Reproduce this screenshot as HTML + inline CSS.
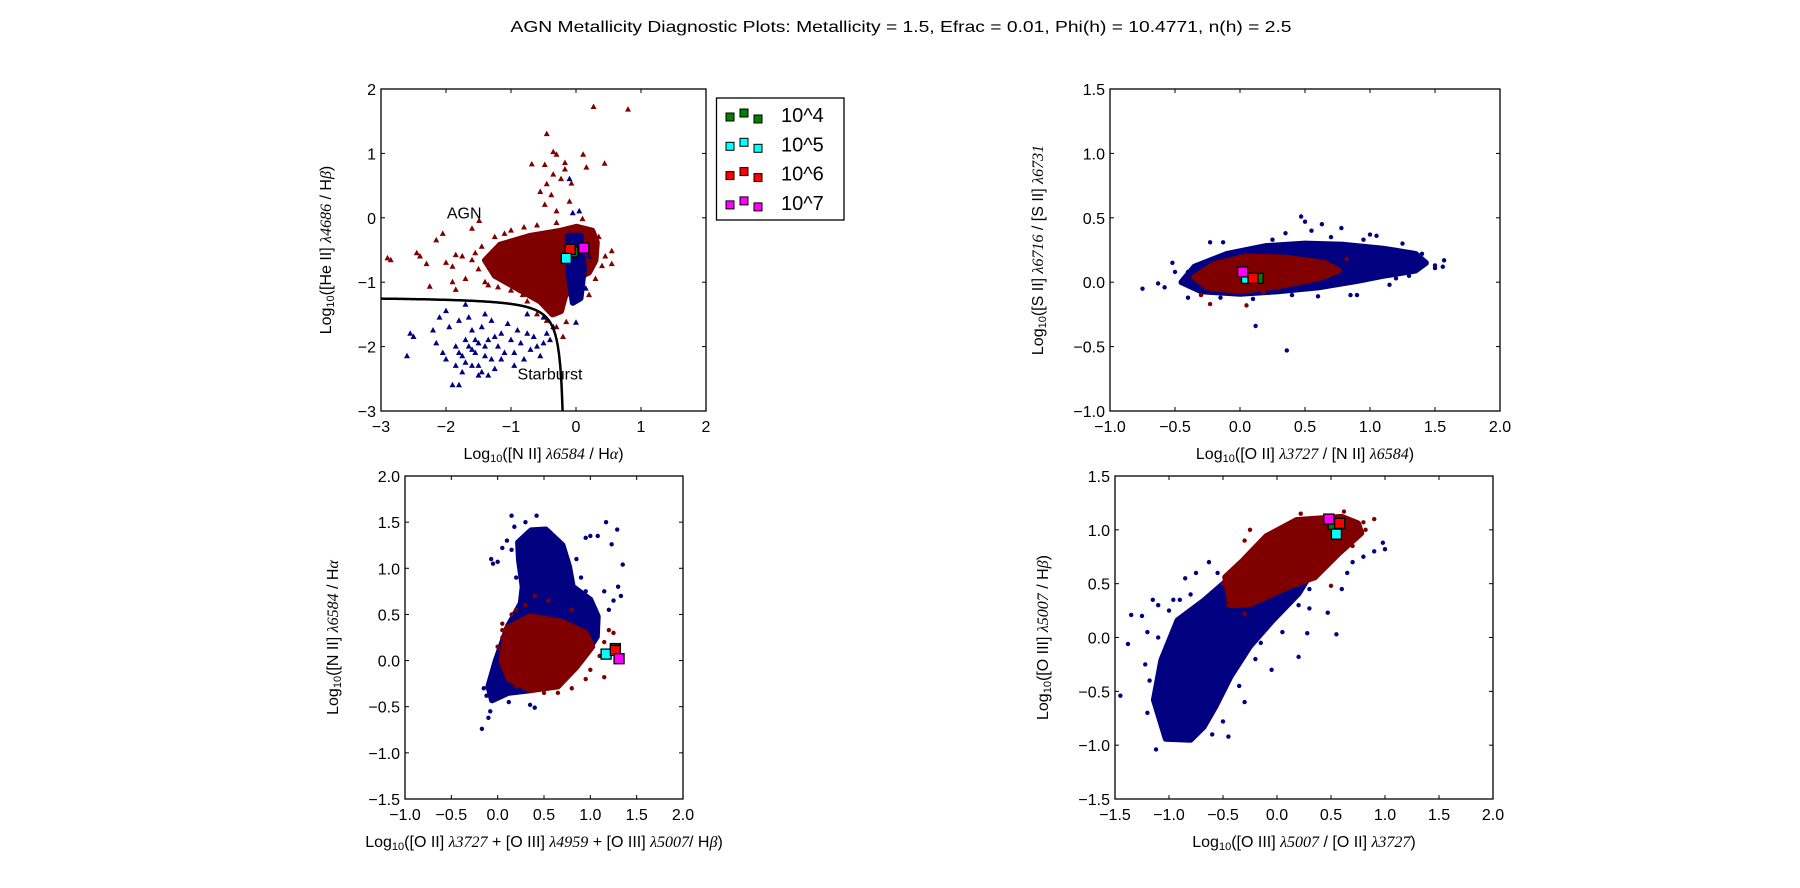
<!DOCTYPE html>
<html><head><meta charset="utf-8">
<style>
html,body{margin:0;padding:0;background:#fff;}
svg{display:block;font-family:"Liberation Sans","DejaVu Sans",sans-serif;}
.tick{font-size:16px;fill:#000;}
.lab{font-size:16px;fill:#000;}
.m{font-family:"Liberation Serif","DejaVu Serif",serif;font-style:italic;}
</style></head>
<body>
<svg id="fig" width="1800" height="888" viewBox="0 0 1800 888" xmlns="http://www.w3.org/2000/svg">
<rect width="1800" height="888" fill="#fff"/>
<text x="901" y="32" text-anchor="middle" font-size="16" textLength="781" lengthAdjust="spacingAndGlyphs">AGN Metallicity Diagnostic Plots: Metallicity = 1.5, Efrac = 0.01, Phi(h) = 10.4771, n(h) = 2.5</text>
</svg>
<script>
// ---------- Plot 1 data (HeII vs NII) ----------
const p1xTicks=[-3,-2,-1,0,1,2];
const p1yTicks=[-3,-2,-1,0,1,2];
const p1RedCore=[[-1.4,-0.66],[-1.17,-0.42],[-0.7,-0.28],[-0.23,-0.2],[0.01,-0.14],[0.25,-0.2],[0.32,-0.38],[0.3,-0.66],[0.2,-0.85],[0.0,-0.95],[-0.17,-1.22],[-0.23,-1.45],[-0.36,-1.5],[-0.55,-1.3],[-0.9,-1.1],[-1.25,-0.9]];
const p1BlueCore=[[-0.12,-0.28],[0.07,-0.28],[0.12,-0.8],[0.07,-1.25],[-0.05,-1.32],[-0.11,-0.9]];
const p1RedPts=[[0.27,1.72],[0.8,1.68],[-0.45,1.3],[-0.35,1.02],[-0.3,0.98],[-0.17,0.85],[0.11,0.98],[0.44,0.84],[0.16,0.78],[-0.68,0.83],[-0.48,0.82],[-0.17,0.75],[-0.35,0.67],[-0.23,0.6],[-0.07,0.53],[-0.45,0.52],[-0.55,0.4],[-0.38,0.35],[-0.1,0.25],[-0.48,0.2],[-0.3,0.1],[-1.49,-0.05],[-1.6,-0.17],[-2.05,-0.25],[-2.15,-0.35],[-2.9,-0.63],[-2.85,-0.66],[-2.45,-0.55],[-2.4,-0.6],[-2.3,-0.72],[-2.0,-0.7],[-1.85,-0.58],[-1.75,-0.6],[-1.9,-0.76],[-1.6,-0.66],[-1.7,-0.95],[-1.9,-1.0],[-2.25,-1.07],[-1.85,-1.12],[-1.4,-1.0],[-1.2,-1.08],[-1.0,-1.13],[-0.82,-1.2],[-0.6,-1.5],[-0.15,-1.62],[-0.2,-1.85],[0.55,-0.52],[0.55,-0.72],[0.45,-0.6],[0.2,-1.2],[-1.0,-0.2],[-0.8,-0.15],[-1.25,-0.3],[-1.45,-0.45],[-1.5,-0.8],[-1.35,-1.05],[-0.75,-1.3],[-0.45,-1.6],[-0.3,-1.7],[0.35,-0.3],[0.4,-0.75],[0.3,-0.95],[-0.6,-0.12],[-0.3,-0.08],[0.1,-0.02],[-1.1,-0.25],[-1.55,-0.55]];
const p1BluePts=[[-0.1,0.6],[-0.05,0.07],[0.05,0.1],[0.0,-1.63],[-0.35,-1.7],[-0.5,-1.55],[-0.75,-1.5],[-2.6,-2.15],[-2.5,-1.85],[-2.55,-1.8],[-2.2,-1.75],[-2.15,-1.95],[-2.05,-2.1],[-2.0,-2.2],[-1.85,-2.0],[-1.9,-2.6],[-1.8,-2.6],[-1.75,-2.4],[-1.95,-1.7],[-2.1,-1.55],[-2.0,-1.45],[-1.7,-1.35],[-1.8,-1.6],[-1.6,-1.75],[-1.65,-2.0],[-1.55,-2.1],[-1.5,-2.3],[-1.45,-2.4],[-1.4,-2.0],[-1.35,-1.9],[-1.3,-2.2],[-1.25,-2.35],[-1.2,-2.0],[-1.15,-1.8],[-1.1,-2.1],[-1.05,-1.65],[-1.0,-1.9],[-0.95,-2.1],[-0.9,-1.75],[-0.85,-1.95],[-0.8,-2.2],[-0.75,-1.8],[-0.7,-2.05],[-0.65,-1.85],[-0.6,-2.0],[-0.55,-2.15],[-0.5,-1.95],[-0.45,-1.8],[-0.4,-1.9],[-1.55,-1.9],[-1.7,-2.25],[-1.6,-2.3],[-1.45,-1.7],[-1.3,-1.6],[-0.95,-2.3],[-1.15,-2.2],[-1.5,-2.45],[-1.35,-2.45],[-1.75,-2.15],[-1.85,-2.3],[-1.65,-1.55],[-1.4,-1.5],[-1.6,-2.05],[-1.5,-1.95],[-1.7,-1.9],[-1.4,-2.15],[-1.25,-1.85],[-1.8,-2.1],[0.15,-1.1],[0.2,-0.6]];
const p1Special=[[-0.05,-0.53,"#008000"],[-0.09,-0.49,"#ff0000"],[-0.15,-0.63,"#00ffff"],[0.12,-0.47,"#ff00ff"]];
// ---------- Plot 2 data (SII ratio vs OII/NII) ----------
const p2xTicks=[-1.0,-0.5,0.0,0.5,1.0,1.5,2.0];
const p2yTicks=[-1.0,-0.5,0.0,0.5,1.0,1.5];
const p2BlueCore=[[-0.45,0.0],[-0.35,0.12],[-0.1,0.22],[0.2,0.28],[0.5,0.3],[0.8,0.29],[1.1,0.26],[1.35,0.22],[1.43,0.15],[1.35,0.09],[1.1,0.05],[0.9,0.01],[0.6,-0.04],[0.3,-0.07],[0.0,-0.09],[-0.3,-0.07]];
const p2RedCore=[[-0.35,0.04],[-0.2,0.14],[0.05,0.2],[0.35,0.19],[0.65,0.15],[0.76,0.09],[0.6,0.03],[0.3,-0.03],[0.0,-0.07],[-0.25,-0.04]];
const p2BluePts=[[-0.75,-0.05],[-0.63,-0.01],[-0.58,-0.04],[-0.52,0.15],[-0.5,0.08],[0.12,-0.34],[0.36,-0.53],[0.47,0.51],[0.5,0.47],[0.63,0.45],[0.78,0.42],[0.55,0.4],[0.35,0.38],[1.05,0.36],[1.0,0.37],[1.57,0.17],[1.56,0.12],[1.5,0.11],[1.5,0.13],[-0.23,0.31],[-0.13,0.31],[0.6,-0.11],[0.9,-0.1],[0.85,-0.1],[1.15,-0.02],[1.2,0.03],[-0.15,-0.12],[-0.4,-0.12],[-0.4,0.08],[0.25,0.33],[0.7,0.35],[0.95,0.33],[1.25,0.3],[1.4,0.22],[0.4,-0.1],[0.1,-0.13],[1.3,0.05],[-0.35,-0.03]];
const p2RedPts=[[-0.23,-0.17],[0.05,-0.18],[-0.3,-0.1],[0.18,-0.08],[0.82,0.18],[0.48,0.08]];
const p2Special=[[0.14,0.03,"#008000"],[0.05,0.03,"#00ffff"],[0.1,0.03,"#ff0000"],[0.02,0.08,"#ff00ff"]];
// ---------- Plot 3 data (NII/Ha vs R23) ----------
const p3xTicks=[-1.0,-0.5,0.0,0.5,1.0,1.5,2.0];
const p3yTicks=[-1.5,-1.0,-0.5,0.0,0.5,1.0,1.5,2.0];
const p3BlueCore=[[0.36,1.41],[0.52,1.42],[0.7,1.25],[0.77,1.02],[0.81,0.8],[1.0,0.66],[1.08,0.48],[1.07,0.26],[0.98,0.12],[0.8,-0.05],[0.55,-0.25],[0.36,-0.32],[0.11,-0.35],[-0.06,-0.43],[-0.1,-0.28],[-0.02,0.0],[0.11,0.37],[0.25,0.62],[0.27,0.8],[0.23,1.09],[0.22,1.28]];
const p3RedCore=[[0.1,0.35],[0.35,0.48],[0.7,0.42],[0.95,0.3],[1.02,0.15],[0.85,-0.07],[0.65,-0.28],[0.36,-0.32],[0.12,-0.2],[0.04,0.0]];
const p3BluePts=[[0.15,1.57],[0.42,1.57],[1.17,1.5],[1.29,1.42],[1.23,1.26],[1.35,1.04],[-0.07,1.1],[-0.05,1.05],[0.0,1.07],[0.05,1.22],[0.1,1.3],[1.0,1.35],[1.08,1.35],[0.95,1.33],[1.3,0.8],[1.33,0.7],[1.25,0.65],[1.15,0.75],[-0.17,-0.74],[-0.1,-0.62],[-0.08,-0.55],[0.35,-0.48],[0.4,-0.51],[0.12,-0.45],[-0.15,-0.3],[-0.12,-0.38],[1.2,0.55],[0.9,0.9],[0.95,0.75],[0.85,1.1],[0.18,1.45],[0.3,1.5],[0.15,1.2],[0.2,0.9]];
const p3RedPts=[[0.05,0.4],[0.05,0.33],[0.05,0.25],[0.15,0.5],[0.2,0.55],[1.2,0.33],[1.25,0.3],[1.15,0.2],[1.2,0.1],[1.1,0.05],[1.0,-0.1],[0.95,-0.2],[0.8,-0.3],[0.65,-0.35],[1.15,-0.18],[0.3,0.6],[0.4,0.7],[0.55,0.65],[0.8,0.55],[0.0,0.15],[0.2,-0.28],[0.5,-0.35]];
const p3Special=[[1.27,0.13,"#008000"],[1.17,0.07,"#00ffff"],[1.27,0.11,"#ff0000"],[1.31,0.02,"#ff00ff"]];
// ---------- Plot 4 data (OIII/Hb vs OIII/OII) ----------
const p4xTicks=[-1.5,-1.0,-0.5,0.0,0.5,1.0,1.5,2.0];
const p4yTicks=[-1.5,-1.0,-0.5,0.0,0.5,1.0,1.5];
const p4BlueCore=[[-1.03,-0.94],[-1.14,-0.58],[-1.07,-0.21],[-0.92,0.16],[-0.68,0.34],[-0.46,0.53],[-0.14,0.72],[0.18,0.9],[0.45,0.85],[0.39,0.72],[0.2,0.41],[-0.04,0.16],[-0.25,-0.08],[-0.43,-0.36],[-0.57,-0.64],[-0.68,-0.83],[-0.8,-0.95]];
const p4RedCore=[[-0.48,0.56],[-0.43,0.3],[-0.25,0.31],[0.1,0.47],[0.35,0.56],[0.57,0.78],[0.78,0.97],[0.75,1.06],[0.6,1.12],[0.18,1.09],[-0.1,0.94],[-0.31,0.72]];
const p4BluePts=[[-1.45,-0.54],[-1.38,-0.06],[-1.35,0.21],[-1.25,0.2],[-1.2,0.05],[-1.15,0.35],[-1.22,-0.25],[-1.1,0.3],[-0.96,0.35],[-0.9,0.35],[-0.85,0.55],[-0.75,0.6],[-0.63,0.7],[-1.12,-1.04],[-0.45,-0.92],[-0.2,-0.2],[-0.3,-0.6],[0.2,-0.18],[0.28,0.04],[0.55,0.03],[0.47,0.23],[0.3,0.27],[0.6,0.45],[0.7,0.7],[0.8,0.75],[0.9,0.8],[1.0,0.82],[0.98,0.88],[0.65,0.6],[0.2,0.3],[-0.05,-0.3],[-1.2,-0.7],[-1.18,-0.4],[-1.1,0.0],[-1.0,0.25],[-0.8,0.4],[-0.55,0.6],[-0.35,0.65],[-0.15,-0.05],[-0.35,-0.45],[-0.5,-0.78],[-0.6,-0.9],[0.05,0.05],[0.3,0.45]];
const p4RedPts=[[0.22,1.15],[0.62,1.17],[0.9,1.1],[0.8,1.07],[-0.1,0.94],[-0.25,1.0],[-0.3,0.9],[0.5,0.48],[0.35,0.55],[-0.3,0.22],[-0.45,0.3],[-0.5,0.5],[-0.4,0.6],[0.7,0.85],[0.82,1.0]];
const p4Special=[[0.52,1.05,"#008000"],[0.55,0.96,"#00ffff"],[0.58,1.06,"#ff0000"],[0.48,1.1,"#ff00ff"]];
// ---------- legend ----------
const legendLabels=["10^4","10^5","10^6","10^7"];
const legendColors=["#008000","#00ffff","#ff0000","#ff00ff"];

const NS="http://www.w3.org/2000/svg";
const fig=document.getElementById("fig");
function mk(tag,attrs,parent){const e=document.createElementNS(NS,tag);for(const k in attrs)e.setAttribute(k,attrs[k]);(parent||fig).appendChild(e);return e;}
function fmt(v,dec){return (v<0?"\u2212":"")+Math.abs(v).toFixed(dec);}

function makePlot(cfg){
  const g=mk("g",{});
  
  
  const L=cfg.box[0],T=cfg.box[1],R=cfg.box[2],B=cfg.box[3];
  const sx=v=>L+(v-cfg.xr[0])/(cfg.xr[1]-cfg.xr[0])*(R-L);
  const sy=v=>B-(v-cfg.yr[0])/(cfg.yr[1]-cfg.yr[0])*(B-T);
  const clipId=cfg.name+"-clip";
  const defs=mk("defs",{},g);
  const cp=mk("clipPath",{id:clipId},defs);
  mk("rect",{x:L,y:T,width:R-L,height:B-T},cp);
  const pg=mk("g",{"clip-path":"url(#"+clipId+")"},g);
  function core(pts,col,nm){
    const p=mk("polygon",{points:pts.map(q=>sx(q[0]).toFixed(1)+","+sy(q[1]).toFixed(1)).join(" "),fill:col,stroke:col,"stroke-width":6,"stroke-linejoin":"round"},pg);
    
    
  }
  function pts(arr,col,nm){
    arr.forEach(q=>{
      let e;
      const x=sx(q[0]),y=sy(q[1]);
      if(cfg.tri){e=mk("polygon",{points:`${x},${y-3.5} ${x-3},${y+2} ${x+3},${y+2}`,fill:col},pg);}
      else{e=mk("circle",{cx:x,cy:y,r:2.2,fill:col},pg);}
      
      
    });
  }
  cfg.layers.forEach(l=>{ if(l.type==="core")core(l.data,l.col,l.nm); else pts(l.data,l.col,l.nm); });
  if(cfg.curve){
    let d="";
    for(let x=cfg.xr[0];x<-0.195;x+=0.005){const y=cfg.curve(x);if(y<cfg.yr[0]-0.2)break;d+=(d?"L":"M")+sx(x).toFixed(1)+","+sy(y).toFixed(1);}
    const c=mk("path",{d:d,fill:"none",stroke:"#000","stroke-width":2.5},pg);
    
    
  }
  cfg.special.forEach(s=>{
    const e=mk("rect",{x:sx(s[0])-5,y:sy(s[1])-5,width:10,height:10,fill:s[2],stroke:"#000","stroke-width":1.3},pg);
    
    
  });
  const fr=mk("rect",{x:L,y:T,width:R-L,height:B-T,fill:"none",stroke:"#000","stroke-width":1.3},g);
  
  
  cfg.xt.forEach(v=>{
    const x=sx(v);
    mk("line",{x1:x,y1:B,x2:x,y2:B-4,stroke:"#000"},g);
    mk("line",{x1:x,y1:T,x2:x,y2:T+4,stroke:"#000"},g);
    const t=mk("text",{x:x,y:B+21,"text-anchor":"middle",class:"tick"},g);
    t.textContent=fmt(v,cfg.dec);
    
    
  });
  cfg.yt.forEach(v=>{
    const y=sy(v);
    mk("line",{x1:L,y1:y,x2:L+4,y2:y,stroke:"#000"},g);
    mk("line",{x1:R,y1:y,x2:R-4,y2:y,stroke:"#000"},g);
    const t=mk("text",{x:L-5,y:y+6,"text-anchor":"end",class:"tick"},g);
    t.textContent=fmt(v,cfg.dec);
    
    
  });
  const xl=mk("text",{x:(L+R)/2,y:B+48,"text-anchor":"middle",class:"lab"},g);
  xl.innerHTML=cfg.xlab;
  
  
  const yx=L-cfg.ylo, yy=(T+B)/2;
  const yl=mk("text",{x:yx,y:yy,"text-anchor":"middle",class:"lab",transform:`rotate(-90 ${yx} ${yy})`},g);
  yl.innerHTML=cfg.ylab;
  
  
  return {sx,sy,g};
}
const LOG='Log<tspan font-size="11" dy="3">10</tspan><tspan dy="-3">';
const p1=makePlot({name:"heii-diagnostic-plot",box:[381,89,706,411],xr:[-3,2],yr:[-3,2],xt:p1xTicks,yt:p1yTicks,dec:0,tri:true,
  layers:[{type:"core",data:p1RedCore,col:"#800000",nm:"agn-cloud"},{type:"pts",data:p1RedPts,col:"#800000",nm:"agn-point"},{type:"core",data:p1BlueCore,col:"#000080",nm:"sf-cloud"},{type:"pts",data:p1BluePts,col:"#000080",nm:"sf-point"}],
  special:p1Special,curve:x=>0.1/(x+0.15)-1.22,
  xlab:LOG+'([N II] </tspan><tspan class="m">λ6584</tspan><tspan> / H</tspan><tspan class="m">α</tspan><tspan>)</tspan>',
  ylab:LOG+'([He II] </tspan><tspan class="m">λ4686</tspan><tspan> / H</tspan><tspan class="m">β</tspan><tspan>)</tspan>',ylo:50});
[["AGN",-1.72,0.08],["Starburst",-0.4,-2.42]].forEach(a=>{
  const t=mk("text",{x:p1.sx(a[1]),y:p1.sy(a[2])+6,"text-anchor":"middle","font-size":"16"},p1.g);
  t.textContent=a[0];
  
  
});
makePlot({name:"sii-diagnostic-plot",box:[1110,89,1500,411],xr:[-1,2],yr:[-1,1.5],xt:p2xTicks,yt:p2yTicks,dec:1,
  layers:[{type:"core",data:p2BlueCore,col:"#000080",nm:"sf-cloud"},{type:"pts",data:p2BluePts,col:"#000080",nm:"sf-point"},{type:"core",data:p2RedCore,col:"#800000",nm:"agn-cloud"},{type:"pts",data:p2RedPts,col:"#800000",nm:"agn-point"}],
  special:p2Special,
  xlab:LOG+'([O II] </tspan><tspan class="m">λ3727</tspan><tspan> / [N II] </tspan><tspan class="m">λ6584</tspan><tspan>)</tspan>',
  ylab:LOG+'([S II] </tspan><tspan class="m">λ6716</tspan><tspan> / [S II] </tspan><tspan class="m">λ6731</tspan>',ylo:67});
makePlot({name:"r23-diagnostic-plot",box:[405,476,683,799],xr:[-1,2],yr:[-1.5,2],xt:p3xTicks,yt:p3yTicks,dec:1,
  layers:[{type:"core",data:p3BlueCore,col:"#000080",nm:"sf-cloud"},{type:"pts",data:p3BluePts,col:"#000080",nm:"sf-point"},{type:"core",data:p3RedCore,col:"#800000",nm:"agn-cloud"},{type:"pts",data:p3RedPts,col:"#800000",nm:"agn-point"}],
  special:p3Special,
  xlab:LOG+'([O II] </tspan><tspan class="m">λ3727</tspan><tspan> + [O III] </tspan><tspan class="m">λ4959</tspan><tspan> + [O III] </tspan><tspan class="m">λ5007</tspan><tspan>/ H</tspan><tspan class="m">β</tspan><tspan>)</tspan>',
  ylab:LOG+'([N II] </tspan><tspan class="m">λ6584</tspan><tspan> / H</tspan><tspan class="m">α</tspan>',ylo:67});
makePlot({name:"oiii-diagnostic-plot",box:[1115,476,1493,799],xr:[-1.5,2],yr:[-1.5,1.5],xt:p4xTicks,yt:p4yTicks,dec:1,
  layers:[{type:"core",data:p4BlueCore,col:"#000080",nm:"sf-cloud"},{type:"pts",data:p4BluePts,col:"#000080",nm:"sf-point"},{type:"core",data:p4RedCore,col:"#800000",nm:"agn-cloud"},{type:"pts",data:p4RedPts,col:"#800000",nm:"agn-point"}],
  special:p4Special,
  xlab:LOG+'([O III] </tspan><tspan class="m">λ5007</tspan><tspan> / [O II] </tspan><tspan class="m">λ3727</tspan><tspan>)</tspan>',
  ylab:LOG+'([O III] </tspan><tspan class="m">λ5007</tspan><tspan> / H</tspan><tspan class="m">β</tspan><tspan>)</tspan>',ylo:67});
// legend
const lg=mk("g",{});


mk("rect",{x:716.5,y:98,width:127.5,height:122,fill:"#fff",stroke:"#000","stroke-width":1.3},lg);
const offs=[2,-2,4];
legendLabels.forEach((lab,i)=>{
  const y=115+i*29.3;
  [730,744,758].forEach((x,j)=>{
    const r=mk("rect",{x:x-4,y:y+offs[j]-4,width:8,height:8,fill:legendColors[i],stroke:"#000","stroke-width":1},lg);
    
    
  });
  const t=mk("text",{x:781,y:y+7,"font-size":"20"},lg);
  t.textContent=lab;
  
  
});
</script>
</body></html>
